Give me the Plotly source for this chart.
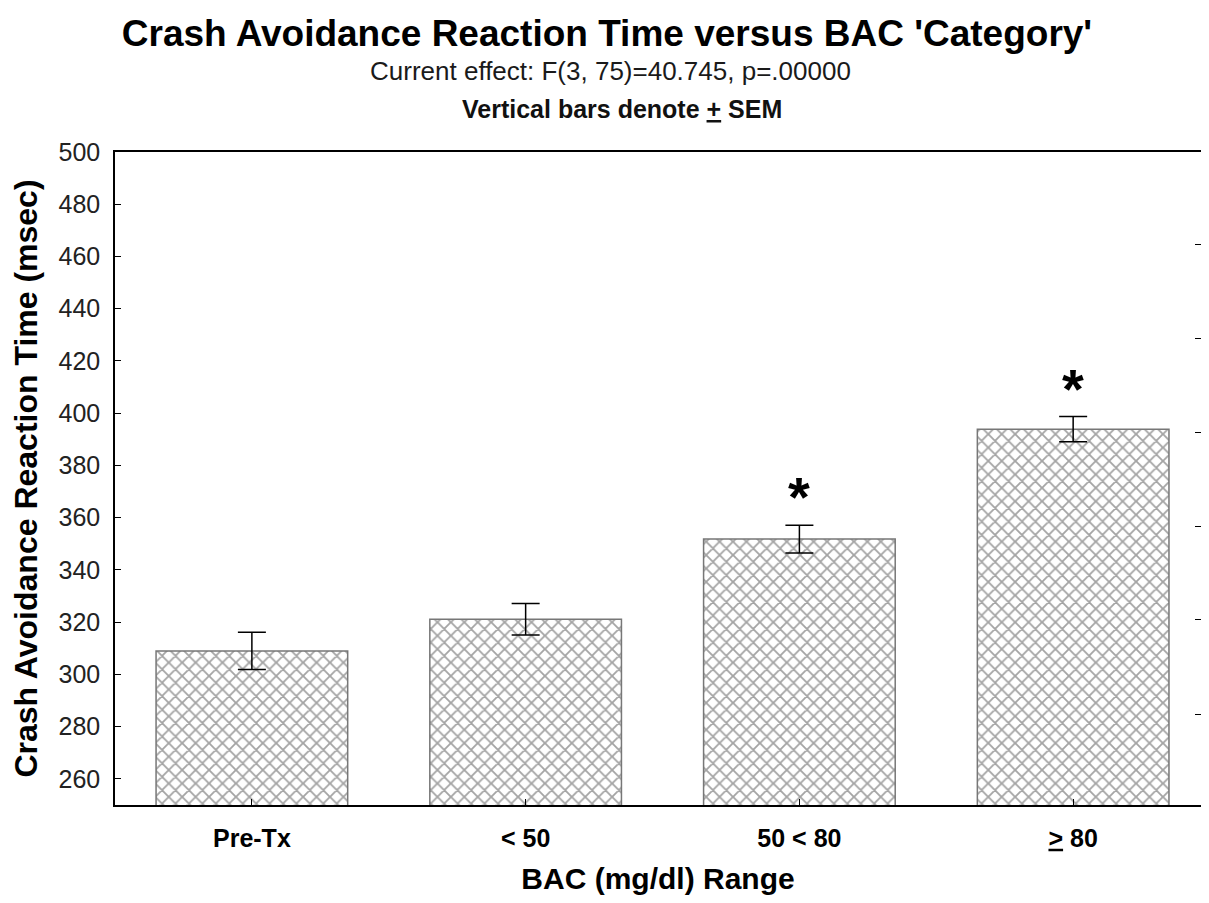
import plotly.graph_objects as go

# ── Data ────────────────────────────────────────────────────
CATEGORIES = ["Pre-Tx", "< 50", "50 < 80", ">= 80"]
TICK_TEXT = ["Pre-Tx", "&lt; 50", "50 &lt; 80", "<u>&gt;</u> 80"]
MEANS = [309.0, 321.1, 351.8, 393.9]
SEM = [7.1, 6.0, 5.3, 4.8]
SIGNIFICANT = [False, False, True, True]
Y_TICKS = list(range(260, 501, 20))
RIGHT_TICKS = [284.8, 320.9, 356.7, 392.5, 428.5, 464.6]

FONT = "Liberation Sans, Arial, sans-serif"
# the page body has an 8px margin; keep the figure inside the window
W, H = 1193, 887
M_L, M_R, M_T, M_B = 107, 0, 144, 90
PLOT_W = W - M_L - M_R
PLOT_H = H - M_T - M_B
# the original plot frame runs past the right edge of the picture,
# so the category axis is clipped a little before its last half-slot
X_RANGE = [-0.5, 3.467]


def px(col):
    """Figure pixel column -> paper x."""
    return (col - M_L) / PLOT_W


def py(row):
    """Figure pixel row (from top) -> paper y."""
    return (H - M_B - row) / PLOT_H


fig = go.Figure()

fig.add_trace(go.Bar(
    x=CATEGORIES, y=MEANS,
    marker=dict(
        color="white",
        line=dict(color="#777777", width=1.5),
        pattern=dict(shape="x", size=9.5, solidity=0.35,
                     fgcolor="#4a4a4a", bgcolor="white", fillmode="overlay"),
    ),
    error_y=dict(type="data", array=SEM, visible=True,
                 color="black", thickness=1.5, width=14),
    showlegend=False,
))

# right-hand tick marks (axis line itself is cut off at the page edge)
fig.add_trace(go.Scatter(x=[CATEGORIES[0]], y=[MEANS[0]], yaxis="y2",
                         mode="markers", marker=dict(opacity=0),
                         showlegend=False, hoverinfo="skip"))

annotations = [
    dict(text="Current effect: F(3, 75)=40.745, p=.00000",
         xref="paper", yref="paper", x=px(602), y=py(63),
         xanchor="center", yanchor="middle",
         showarrow=False, font=dict(family=FONT, size=26, color="#1a1a1a")),
    dict(text="<b>Vertical bars denote <u>+</u> SEM</b>",
         xref="paper", yref="paper", x=px(614), y=py(101),
         xanchor="center", yanchor="middle",
         showarrow=False, font=dict(family=FONT, size=25, color="#111")),
]
for cat, m, s, sig in zip(CATEGORIES, MEANS, SEM, SIGNIFICANT):
    if sig:
        annotations.append(dict(
            text="<b>*</b>", x=cat, y=m + s, xref="x", yref="y",
            yanchor="bottom", yshift=-5, showarrow=False,
            font=dict(family=FONT, size=56, color="black"),
        ))

fig.update_layout(
    width=W, height=H,
    margin=dict(l=M_L, r=M_R, t=M_T, b=M_B),
    paper_bgcolor="white", plot_bgcolor="white",
    font=dict(family=FONT, color="#111"),
    bargap=0.3,
    title=dict(text="<b>Crash Avoidance Reaction Time versus BAC 'Category'</b>",
               x=(599 / W), xanchor="center", y=1 - 25 / H, yanchor="middle",
               font=dict(family=FONT, size=37, color="black")),
    xaxis=dict(
        range=X_RANGE,
        tickvals=CATEGORIES, ticktext=[f"<b>{t}</b>" for t in TICK_TEXT],
        ticks="inside", ticklen=6, tickcolor="black", tickwidth=1,
        showline=True, linecolor="black", linewidth=1.5, mirror=True,
        showgrid=False, tickfont=dict(family=FONT, size=25, color="black"),
        ticklabelstandoff=10, automargin=False,
        title=dict(text="<b>BAC (mg/dl) Range</b>", standoff=20,
                   font=dict(family=FONT, size=30, color="black")),
    ),
    yaxis=dict(
        range=[250, 500], tickvals=Y_TICKS,
        ticks="inside", ticklen=6, tickcolor="black", tickwidth=1,
        showline=True, linecolor="black", linewidth=1.5,
        showgrid=False, zeroline=False, automargin=False,
        tickfont=dict(family=FONT, size=25, color="#222"),
        ticklabelstandoff=8,
        title=dict(text="<b>Crash Avoidance Reaction Time (msec)</b>", standoff=13,
                   font=dict(family=FONT, size=32, color="black")),
    ),
    yaxis2=dict(
        overlaying="y", side="right", anchor="x", range=[250, 500],
        tickvals=RIGHT_TICKS, ticks="inside", ticklen=6, tickcolor="black",
        showticklabels=False, showline=False, showgrid=False, zeroline=False,
    ),
    annotations=annotations,
)

fig.write_html("out.html")
